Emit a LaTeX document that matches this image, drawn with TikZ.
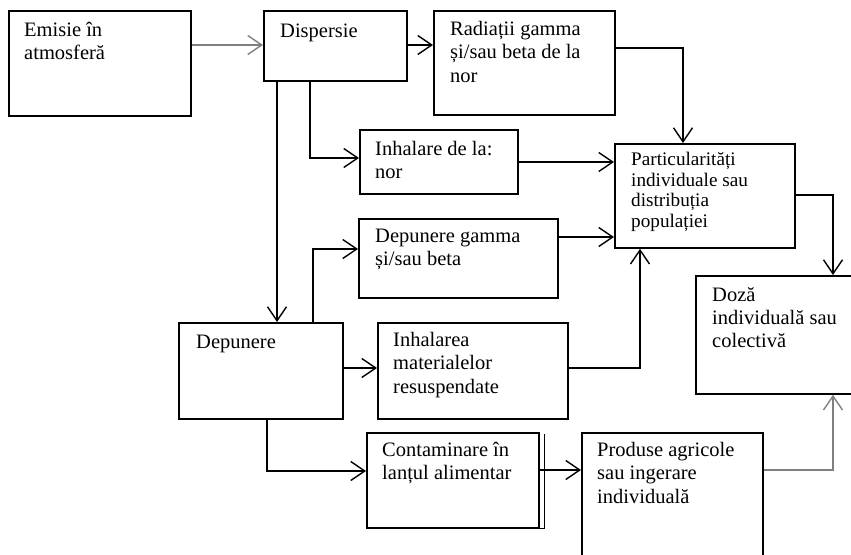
\documentclass[tikz,border=0pt]{standalone}
\usepackage{fontspec}
\setmainfont{Liberation Serif}
\usepackage{tikz}
\usetikzlibrary{calc}
\usetikzlibrary{positioning}
\usetikzlibrary{arrows.meta}

\tikzset{
	stage/.style={draw, line width=1.8pt, anchor=north west, inner sep=0pt},
	% the strut fixes the top of the first line, so the node top sits 16pt above its baseline
	stagetext/.style={anchor=north west, align=left, inner sep=0pt,
		font=\fontsize{20.5pt}{23.3pt}\selectfont,
		execute at begin node={\rule{0pt}{16pt}}},
	flow/.style={line width=2.5pt, -{Straight Barb[length=14pt,width=19pt,line width=1.4pt]}},
	flowgray/.style={flow, draw=black!50},
}

\begin{document}
\begin{tikzpicture}[x=1pt, y=-1pt]
	\clip (0,0) rectangle (851,554);
	
	%boxes: name / left / top / right / bottom
	\foreach \n/\xa/\ya/\xb/\yb in {
		emis/8/10/190/115, disp/263/10/406/80, rad/433/10/614/114,
		inh/359/129/517/193, part/614/143/794/247, depg/358/218/557/297,
		dep/178/322/342/418, inhm/377/322/567/418, cont/366/432/538/527,
		prod/581/432/762/570, doza/695/275/870/393} {
		\node[stage, minimum width={(\xb-\xa)*1pt}, minimum height={(\yb-\ya)*1pt}] (\n) at (\xa,\ya) {};
	}
	% second edge on the food chain box
	\draw[line width=1pt] ([xshift=5pt,yshift=-2pt]cont.north east) -- ([xshift=5pt]cont.south east) -- (cont.south east);
	
	%texts (shift = left inset, baseline of the first line - 16)
	\node[stagetext] (emis-t) at ([shift={(16,12)}]emis.north west) {Emisie în\\atmosferă};
	\node[stagetext] (disp-t) at ([shift={(17,11)}]disp.north west) {Dispersie};
	\node[stagetext] (rad-t) at ([shift={(17,11)}]rad.north west) {Radiații gamma\\și/sau beta de la\\nor};
	\node[stagetext] (inh-t) at ([shift={(16,12)}]inh.north west) {Inhalare de la:\\nor};
	\node[stagetext, font=\fontsize{19.2pt}{20.7pt}\selectfont] (part-t) at ([shift={(17,9)}]part.north west) {Particularități\\individuale sau\\distribuția\\populației};
	\node[stagetext] (depg-t) at ([shift={(17,11)}]depg.north west) {Depunere gamma\\și/sau beta};
	\node[stagetext] (dep-t) at ([shift={(18,10)}]dep.north west) {Depunere};
	\node[stagetext] (inhm-t) at ([shift={(16,10)}]inhm.north west) {Inhalarea\\materialelor\\resuspendate};
	\node[stagetext] (cont-t) at ([shift={(16,10)}]cont.north west) {Contaminare în\\lanțul alimentar};
	\node[stagetext] (prod-t) at ([shift={(16,10)}]prod.north west) {Produse agricole\\sau ingerare\\individuală};
	\node[stagetext] (doza-t) at ([shift={(17,12)}]doza.north west) {Doză\\individuală sau\\colectivă};
	
	%connections
	\draw[flowgray] ([yshift=-35pt]emis.north east) -- ([yshift=-35pt]disp.north west);
	\draw[flow] ([yshift=-35pt]disp.north east) -- ([yshift=-35pt]rad.north west);
	\draw[flow] ([xshift=14pt]disp.south west) -- ([xshift=14pt]disp.south west |- dep.north);
	\draw[flow] ([xshift=47pt]disp.south west) |- ([yshift=-29pt]inh.north west);
	\draw[flow] ([yshift=-38pt]rad.north east) -| ([xshift=69pt]part.north west);
	\draw[flow] ([yshift=-33pt]inh.north east) -- ([yshift=-33pt]inh.north east -| part.west);
	\draw[flow] ([yshift=-19pt]depg.north east) -- ([yshift=-19pt]depg.north east -| part.west);
	\draw[flow] ([xshift=135pt]dep.north west) |- ([yshift=-31pt]depg.north west);
	\draw[flow] ([yshift=-46pt]dep.north east) -- ([yshift=-46pt]inhm.north west);
	\draw[flow] ([yshift=-46pt]inhm.north east) -| ([xshift=26pt]part.south west);
	\draw[flow] ([yshift=-52pt]part.north east) -| ([xshift=138pt]doza.north west);
	\draw[flow] ([xshift=89pt]dep.south west) |- ([yshift=-39pt]cont.north west);
	\draw[flow] ([yshift=-38pt]cont.north east) -- ([yshift=-38pt]prod.north west);
	\draw[flowgray] ([yshift=-38pt]prod.north east) -| ([xshift=138pt]doza.south west);
\end{tikzpicture}
\end{document}
